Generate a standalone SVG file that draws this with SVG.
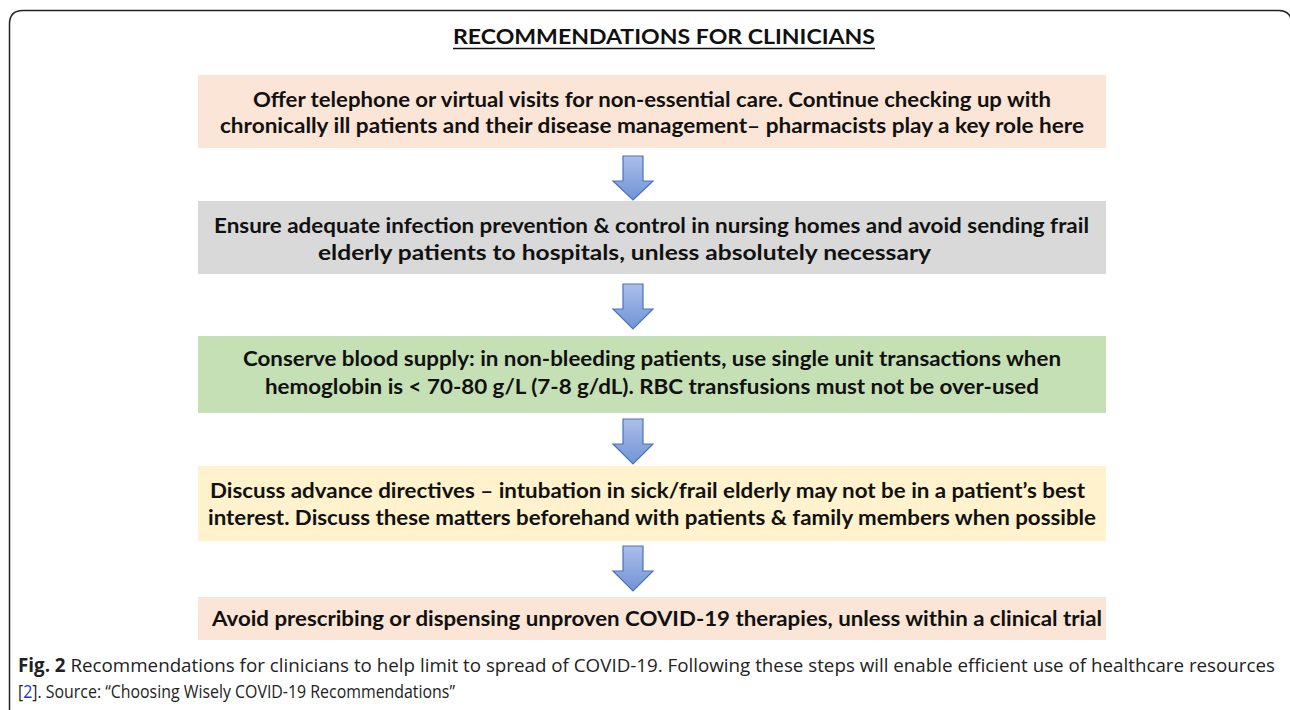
<svg xmlns="http://www.w3.org/2000/svg" width="1290" height="710" viewBox="0 0 1290 710">
<style>
.bt{font-family:Lato,"Open Sans","Liberation Sans",sans-serif;font-weight:bold;font-size:21px;fill:#111;}
.cap{font-family:"Open Sans",Lato,"Liberation Sans",sans-serif;font-size:19px;fill:#222;}
.arr{fill:url(#ag);stroke:#4a72c0;stroke-width:1.2;}
</style>
<defs>
<linearGradient id="ag" x1="0" y1="0" x2="0" y2="1">
<stop offset="0" stop-color="#aabfe9"/>
<stop offset="1" stop-color="#7393d6"/>
</linearGradient>
</defs>
<rect width="1290" height="710" fill="#fff"/>
<path d="M9.5 712 V24 Q9.5 10.5 23 10.5 H1279 Q1290 10.5 1292 22" fill="none" stroke="#222" stroke-width="1.5"/>
<g id="title">
<text class="bt" x="664" y="44" text-anchor="middle" font-size="22" textLength="422" lengthAdjust="spacingAndGlyphs">RECOMMENDATIONS FOR CLINICIANS</text>
<line x1="453" y1="48.5" x2="875" y2="48.5" stroke="#111" stroke-width="1.5"/>
</g>
<g id="node1">
<rect x="198" y="75" width="908" height="73" fill="#fbe5d6"/>
<text class="bt" x="652" y="107" text-anchor="middle" textLength="798" lengthAdjust="spacingAndGlyphs">Offer telephone or virtual visits for non-essential care. Continue checking up with</text>
<text class="bt" x="652" y="133" text-anchor="middle" textLength="864" lengthAdjust="spacingAndGlyphs">chronically ill patients and their disease management– pharmacists play a key role here</text>
</g>
<g id="node2">
<rect x="198" y="201" width="908" height="73" fill="#d9d9d9"/>
<text class="bt" x="651.5" y="233" text-anchor="middle" textLength="875" lengthAdjust="spacingAndGlyphs">Ensure adequate infection prevention &amp; control in nursing homes and avoid sending frail</text>
<text class="bt" x="624.5" y="260" text-anchor="middle" textLength="613" lengthAdjust="spacingAndGlyphs">elderly patients to hospitals, unless absolutely necessary</text>
</g>
<g id="node3">
<rect x="198" y="336" width="908" height="77" fill="#c5e0b4"/>
<text class="bt" x="652" y="366" text-anchor="middle" textLength="818" lengthAdjust="spacingAndGlyphs">Conserve blood supply: in non-bleeding patients, use single unit transactions when</text>
<text class="bt" x="652" y="394" text-anchor="middle" textLength="774" lengthAdjust="spacingAndGlyphs">hemoglobin is &lt; 70-80 g/L (7-8 g/dL). RBC transfusions must not be over-used</text>
</g>
<g id="node4">
<rect x="198" y="466" width="908" height="75" fill="#fff2cc"/>
<text class="bt" x="647.5" y="498" text-anchor="middle" textLength="875" lengthAdjust="spacingAndGlyphs">Discuss advance directives – intubation in sick/frail elderly may not be in a patient’s best</text>
<text class="bt" x="652" y="525" text-anchor="middle" textLength="888" lengthAdjust="spacingAndGlyphs">interest. Discuss these matters beforehand with patients &amp; family members when possible</text>
</g>
<g id="node5">
<rect x="198" y="597" width="908" height="43" fill="#fbe5d6"/>
<text class="bt" x="657" y="626" text-anchor="middle" textLength="890" lengthAdjust="spacingAndGlyphs">Avoid prescribing or dispensing unproven COVID-19 therapies, unless within a clinical trial</text>
</g>
<g id="connectors">
<path class="arr" d="M623 156 H643 V181 H653 L633 200 L613 181 H623 Z"/>
<path class="arr" d="M623 284 H643 V309 H653 L633 329 L613 309 H623 Z"/>
<path class="arr" d="M623 419 H643 V444 H653 L633 464 L613 444 H623 Z"/>
<path class="arr" d="M623 546 H643 V571 H653 L633 591 L613 571 H623 Z"/>
</g>
<g id="caption">
<text class="cap" x="18" y="672" textLength="1257" lengthAdjust="spacingAndGlyphs"><tspan font-weight="bold">Fig. 2</tspan> Recommendations for clinicians to help limit to spread of COVID-19. Following these steps will enable efficient use of healthcare resources</text>
<text class="cap" x="18" y="698" textLength="437" lengthAdjust="spacingAndGlyphs">[<tspan fill="#1a35d8">2</tspan>]. Source: “Choosing Wisely COVID-19 Recommendations”</text>
</g>
</svg>
